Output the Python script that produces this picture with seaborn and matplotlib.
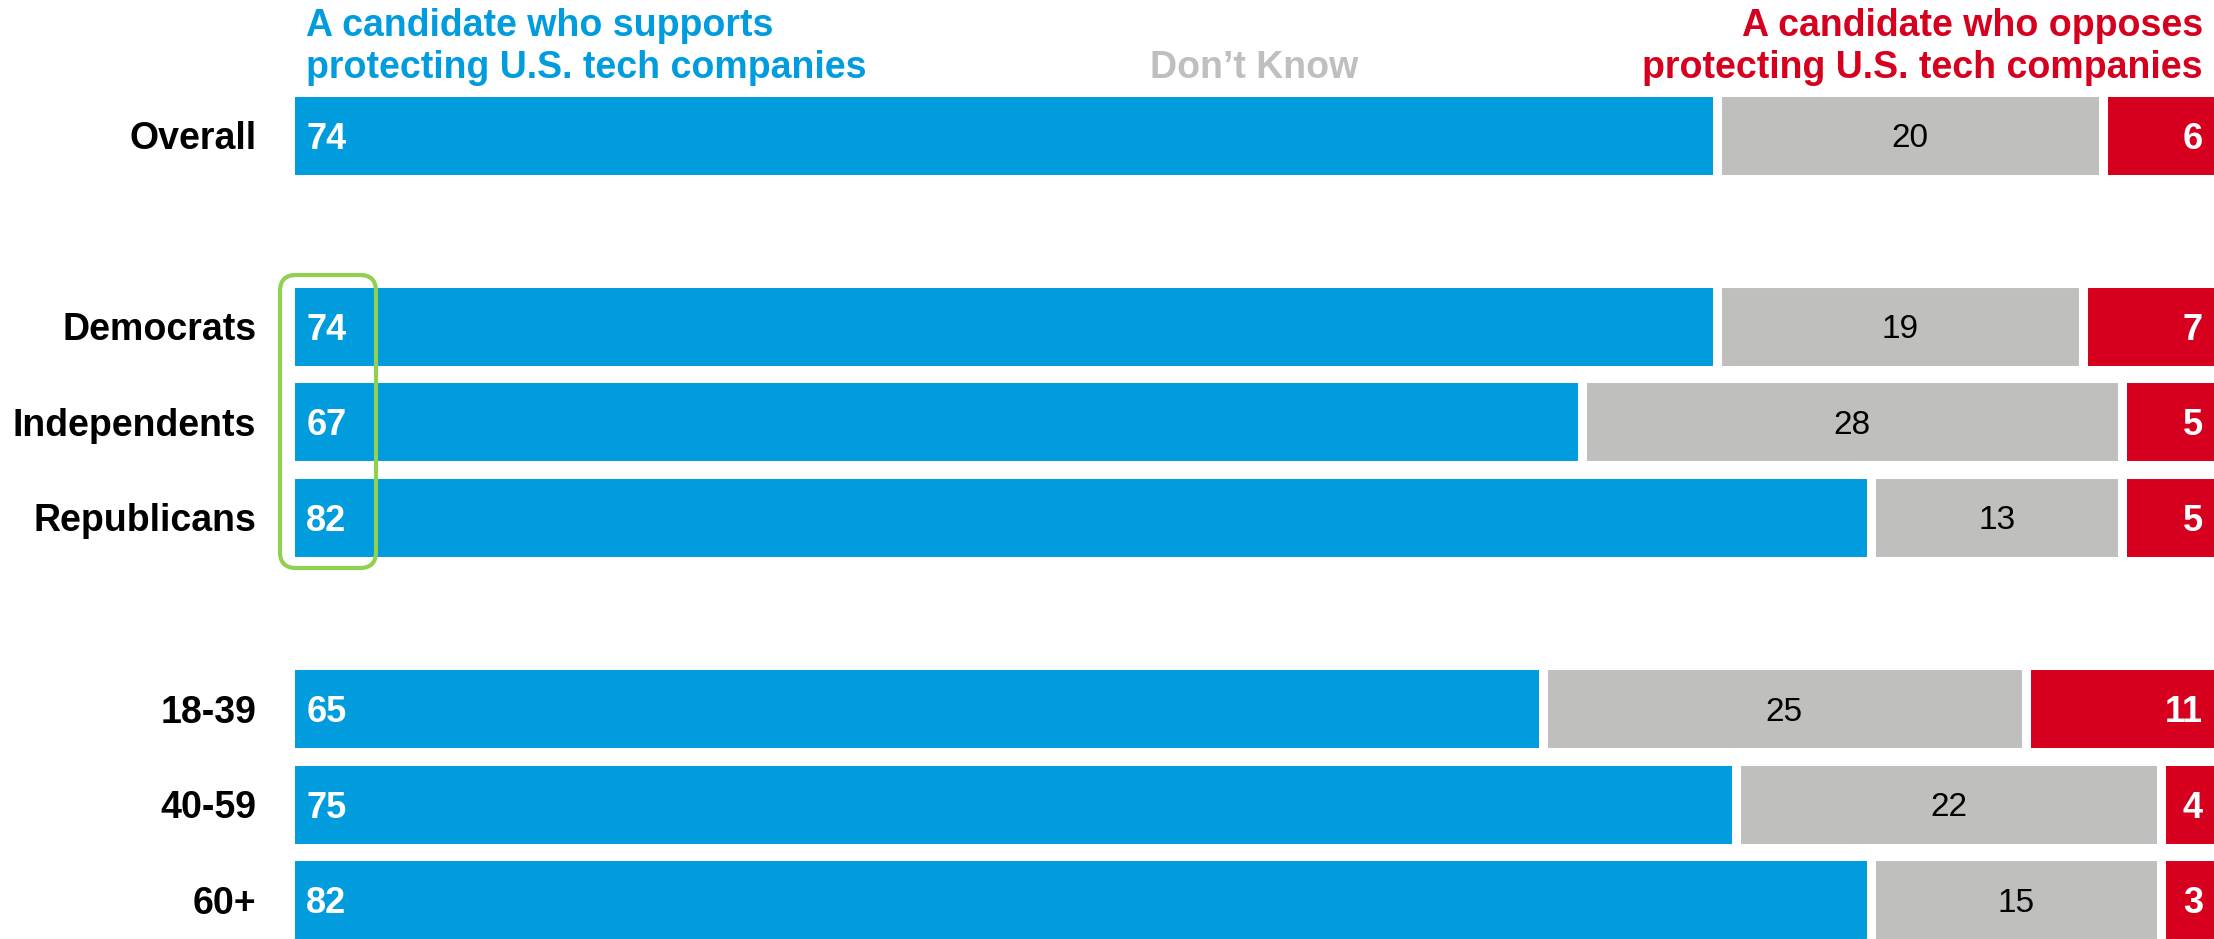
import numpy as np
import pandas as pd
import matplotlib
matplotlib.use("Agg")
import matplotlib.pyplot as plt
import seaborn as sns
from matplotlib.patches import FancyBboxPatch
from matplotlib.transforms import IdentityTransform

# Data
GROUPS = ['Overall', 'Democrats', 'Independents', 'Republicans', '18-39', '40-59', '60+']
ROW_POS = [0, 2, 3, 4, 6, 7, 8]
SUPPORT = [74, 74, 67, 82, 65, 75, 82]
DONT_KNOW = [20, 19, 28, 13, 25, 22, 15]
OPPOSE = [6, 7, 5, 5, 11, 4, 3]

BLUE = '#009CDE'
GRAY = '#BFBFBD'
RED = '#D6001E'
GREEN = '#92D050'

df = pd.DataFrame({'group': GROUPS, 'pos': ROW_POS,
                   'support': SUPPORT, 'dk': DONT_KNOW, 'oppose': OPPOSE})
df['cum1'] = df['support']
df['cum2'] = df['support'] + df['dk']
df['cum3'] = df['cum2'] + df['oppose']

sns.set_style('white')
plt.rcParams['font.family'] = ['Liberation Sans', 'DejaVu Sans']

W, H, DPI = 2214, 939, 100
fig = plt.figure(figsize=(W / DPI, H / DPI), dpi=DPI)
ax = fig.add_axes([289.5 / W, 0, 1 - 289.5 / W, 1 - 92 / H])

bar_kw = dict(orient='y', native_scale=True, width=0.91, errorbar=None,
              saturation=1, edgecolor='white', linewidth=6.5, ax=ax)
# stacked by overdrawing cumulative totals
sns.barplot(data=df, x='cum3', y='pos', color=RED, **bar_kw)
sns.barplot(data=df, x='cum2', y='pos', color=GRAY, **bar_kw)
sns.barplot(data=df, x='cum1', y='pos', color=BLUE, **bar_kw)

ax.set_xlim(0, 99.77)
ax.set_ylim(8.41, -0.45)
ax.set_yticks(ROW_POS, labels=GROUPS)
ax.tick_params(axis='y', length=0, pad=24, labelsize=27, labelcolor='black')
for lbl in ax.get_yticklabels():
    lbl.set_fontweight('bold')
ax.set_xticks([])
ax.set_xlabel('')
ax.set_ylabel('')
sns.despine(ax=ax, left=True, bottom=True)

# value labels
for _, r in df.iterrows():
    ax.annotate(f"{r['support']}", xy=(0, r['pos']), xytext=(12, 0),
                textcoords='offset points', ha='left', va='center_baseline',
                color='white', fontsize=26, fontweight='bold')
    ax.text((r['cum1'] + r['cum2']) / 2, r['pos'], f"{r['dk']}",
            ha='center', va='center_baseline', color='black', fontsize=24)
    ax.annotate(f"{r['oppose']}", xy=(min(r['cum3'], 100), r['pos']), xytext=(-11.2, 0),
                textcoords='offset points', ha='right', va='center_baseline',
                color='white', fontsize=26, fontweight='bold', annotation_clip=False)

# headers
fig.text(306 / W, 1 - 86 / H, 'A candidate who supports\nprotecting U.S. tech companies',
         ha='left', va='bottom', color=BLUE, fontsize=27, fontweight='bold', linespacing=1.22)
fig.text(1254 / W, 1 - 86 / H, 'Don\u2019t Know',
         ha='center', va='bottom', color=GRAY, fontsize=27, fontweight='bold')
fig.text(2203 / W, 1 - 86 / H, 'A candidate who opposes\nprotecting U.S. tech companies',
         ha='right', va='bottom', color=RED, fontsize=27, fontweight='bold', linespacing=1.22,
         multialignment='right')

# green highlight box around partisan support values
box = FancyBboxPatch((280, H - 568), 96, 293, boxstyle='round,pad=0,rounding_size=16',
                     transform=IdentityTransform(), fill=False, edgecolor=GREEN,
                     linewidth=3, clip_on=False)
fig.patches.append(box)

fig.savefig('out.png', dpi=DPI)
